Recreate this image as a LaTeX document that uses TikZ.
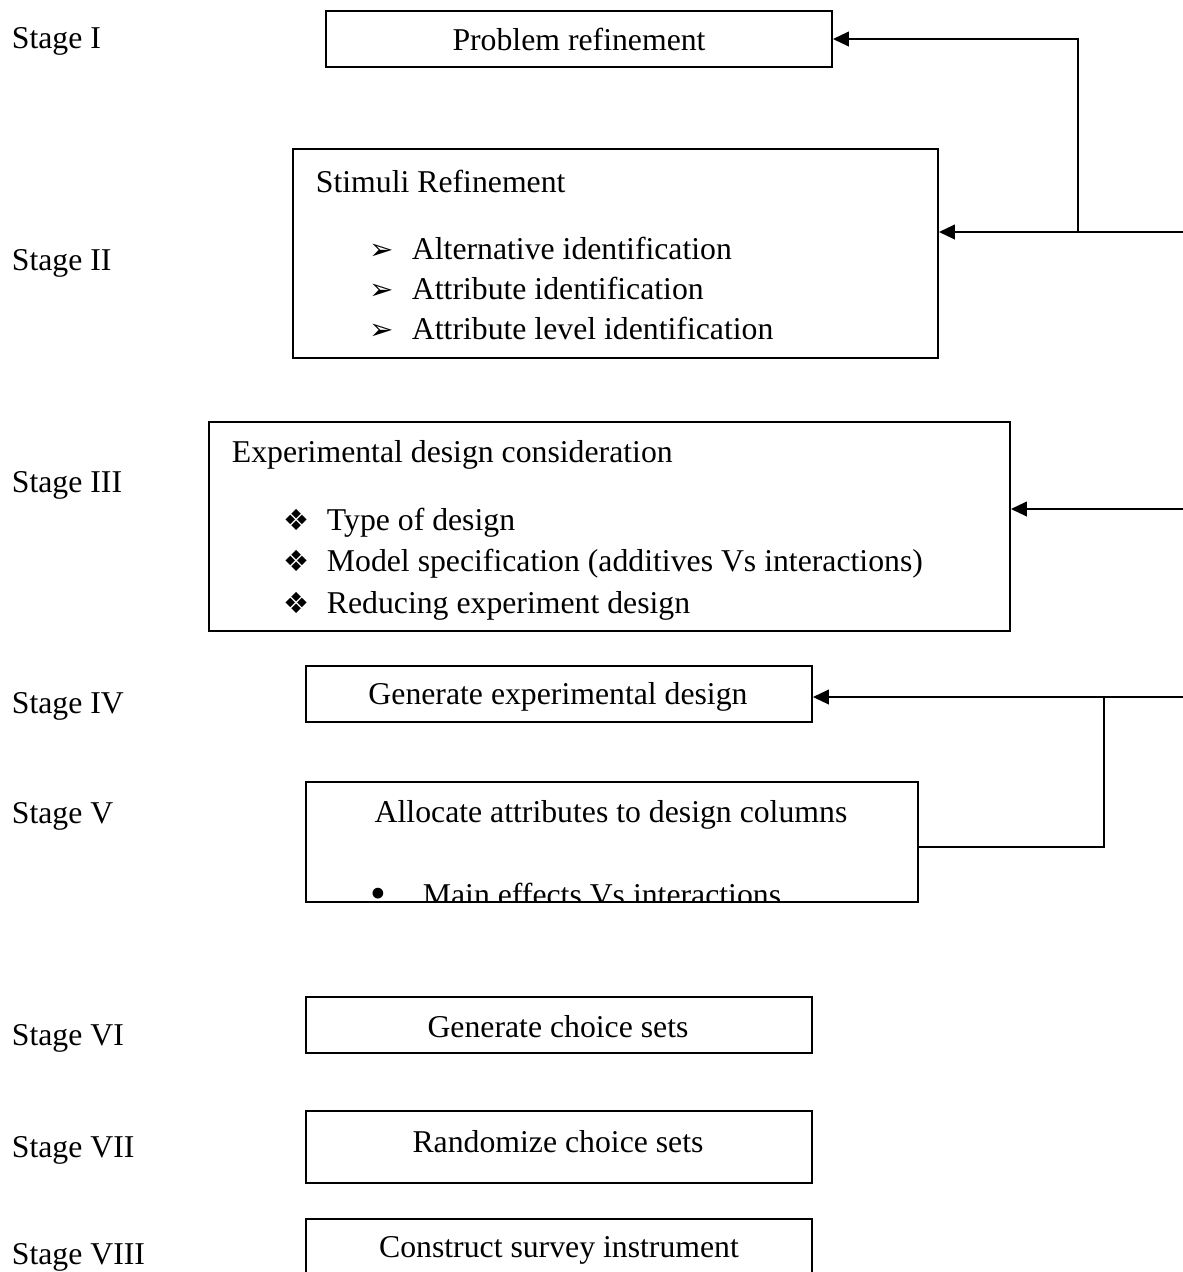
\documentclass[tikz,border=0pt]{standalone}
\usepackage{fontspec}
\setmainfont{Liberation Serif}
\newfontfamily\dingfont{DejaVu Sans}
\usetikzlibrary{arrows.meta,fit}

\begin{document}
\begin{tikzpicture}[
		x=0.378pt, y=-0.378pt,
		line width=0.7pt,
		font=\fontsize{12}{14}\selectfont,
		> = {Triangle[length=6pt,width=5.5pt]},
		box/.style = {draw,inner sep=0pt,fit={#1}},
		lbl/.style = {inner sep=0pt,text height=8pt,text depth=0pt},
		txt/.style = {lbl,anchor=west},
		ding/.style = {txt,font=\dingfont\fontsize{11}{13}\selectfont}
		]

	\useasboundingbox (0,0) rectangle (1183,1272);
	\clip (0,0) rectangle (1183,1272);

	\node[txt] (st1) at (11,38) {Stage I};
	\node[txt] (st2) at (11,260) {Stage II};
	\node[txt] (st3) at (11,482) {Stage III};
	\node[txt] (st4) at (11,703) {Stage IV};
	\node[txt] (st5) at (11,813) {Stage V};
	\node[txt] (st6) at (11,1035) {Stage VI};
	\node[txt] (st7) at (11,1147) {Stage VII};
	\node[txt] (st8) at (11,1254) {Stage VIII};

	\node[box={(326,11) (832,67)}] (prob) {};
	\node[lbl] (probt) at (579,40) {Problem refinement};

	\node[box={(293,149) (938,358)}] (stim) {};
	\node[txt] (stimt) at (315,182) {Stimuli Refinement};
	\node[ding] (stimb1) at (369,249) {➢};
	\node[ding] (stimb2) at (369,289) {➢};
	\node[ding] (stimb3) at (369,329) {➢};
	\node[txt] (stimi1) at (411,249) {Alternative identification};
	\node[txt] (stimi2) at (411,289) {Attribute identification};
	\node[txt] (stimi3) at (411,329) {Attribute level identification};

	\node[box={(209,422) (1010,631)}] (exp) {};
	\node[txt] (expt) at (231,452) {Experimental design consideration};
	\node[ding] (expb1) at (283,520) {❖};
	\node[ding] (expb2) at (283,561) {❖};
	\node[ding] (expb3) at (283,603) {❖};
	\node[txt] (expi1) at (326,520) {Type of design};
	\node[txt] (expi2) at (326,561) {Model specification (additives Vs interactions)};
	\node[txt] (expi3) at (326,603) {Reducing experiment design};

	\node[box={(306,666) (812,722)}] (gen) {};
	\node[lbl] (gent) at (558,694) {Generate experimental design};

	\node[box={(306,782) (918,902)}] (alloc) {};
	\node[lbl] (alloct) at (611,812) {Allocate attributes to design columns};
	\begin{scope}
		\clip (alloc.north west) rectangle (alloc.south east);
		\node[txt,font=\fontsize{17}{19}\selectfont] (allocb) at (370,898) {•};
		\node[txt] (alloci) at (422,895) {Main effects Vs interactions};
	\end{scope}

	\node[box={(306,997) (812,1053)}] (cho) {};
	\node[lbl] (chot) at (558,1027) {Generate choice sets};
	\node[box={(306,1111) (812,1183)}] (rand) {};
	\node[lbl] (randt) at (558,1142) {Randomize choice sets};
	\node[box={(306,1219) (812,1280)}] (surv) {};
	\node[lbl] (survt) at (559,1247) {Construct survey instrument};

	\coordinate (e1) at (1183,232);
	\coordinate (j1) at (1078,232);
	\coordinate (e3) at (1183,509);
	\coordinate (e4) at (1183,697);
	\coordinate (j4) at (1104,697);
	\coordinate (j5) at (1104,847);

	\draw[->] (e1) -- (stim.east |- e1);
	\draw[->] (j1) |- (prob.east);
	\draw[->] (e3) -- (exp.east |- e3);
	\draw[->] (e4) -- (gen.east |- e4);
	\draw (j4) -- (j5) -- (alloc.east |- j5);
\end{tikzpicture}
\end{document}
